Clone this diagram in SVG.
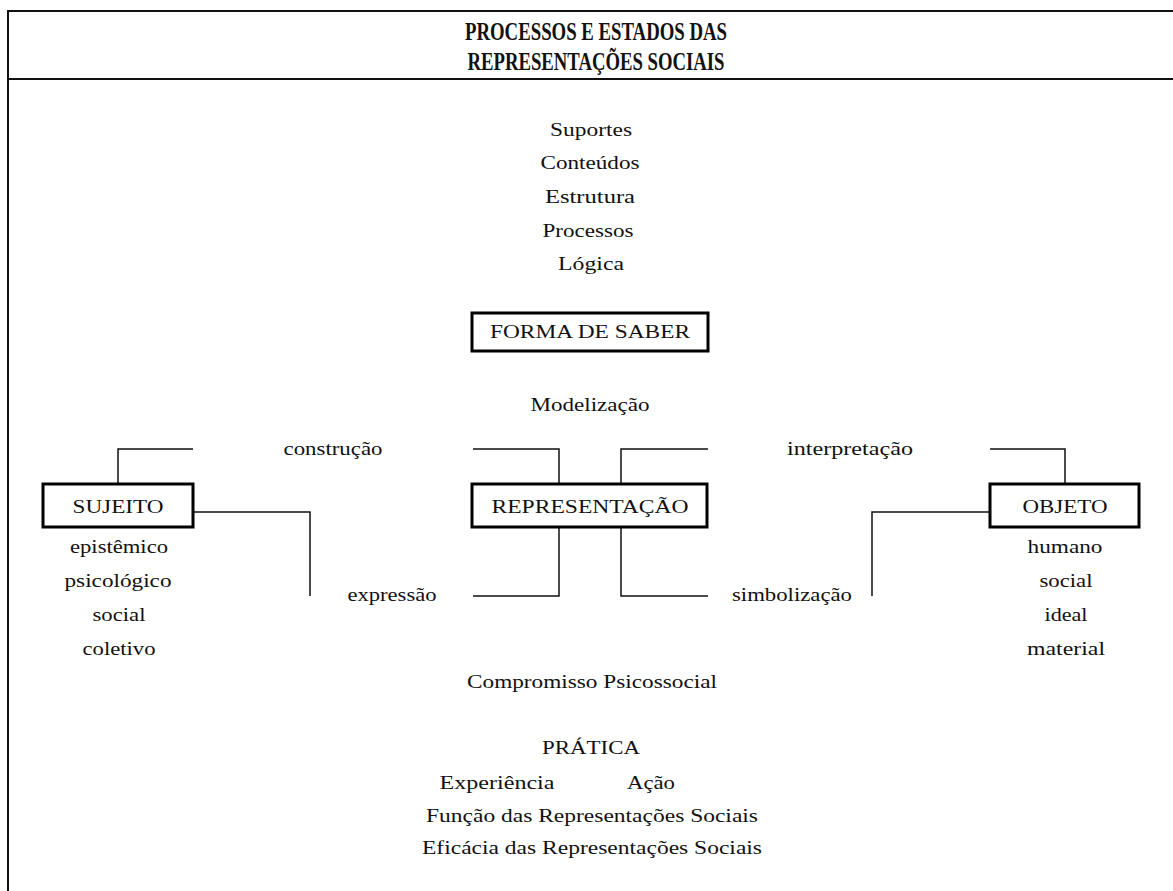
<svg xmlns="http://www.w3.org/2000/svg" width="1173" height="891" viewBox="0 0 1173 891">
<style>
text{font-family:"Liberation Serif","Times New Roman",serif;font-size:18px;fill:#111;text-anchor:middle}
.t{font-weight:bold;font-size:25px}
.box{fill:#fff;stroke:#000;stroke-width:3}
.frame{fill:none;stroke:#111;stroke-width:2}
.c{fill:none;stroke:#111;stroke-width:1.5}
</style>
<rect width="1173" height="891" fill="#fff"/>
<g id="frame">
<path class="frame" d="M8,891 V11 H1173 M8,79 H1173"/>
</g>
<g id="title">
<text class="t" x="596" y="40" textLength="262" lengthAdjust="spacingAndGlyphs">PROCESSOS E ESTADOS DAS</text>
<text class="t" x="596" y="70" textLength="257" lengthAdjust="spacingAndGlyphs">REPRESENTAÇÕES SOCIAIS</text>
</g>
<g id="dimensoes">
<text x="591" y="136" textLength="82" lengthAdjust="spacingAndGlyphs">Suportes</text>
<text x="590" y="169" textLength="99" lengthAdjust="spacingAndGlyphs">Conteúdos</text>
<text x="590" y="203" textLength="90" lengthAdjust="spacingAndGlyphs">Estrutura</text>
<text x="588" y="237" textLength="91" lengthAdjust="spacingAndGlyphs">Processos</text>
<text x="591" y="270" textLength="66" lengthAdjust="spacingAndGlyphs">Lógica</text>
</g>
<g id="forma-de-saber">
<rect class="box" x="472" y="313" width="236" height="38"/>
<text x="590" y="338" textLength="200" lengthAdjust="spacingAndGlyphs">FORMA DE SABER</text>
</g>
<g id="modelizacao">
<text x="590" y="411" textLength="119" lengthAdjust="spacingAndGlyphs">Modelização</text>
</g>
<g id="connectors">
<path class="c" d="M118,483 V449 H193"/>
<path class="c" d="M473,449 H559 V483"/>
<path class="c" d="M621,483 V449 H708"/>
<path class="c" d="M990,449 H1065 V483"/>
<path class="c" d="M193,512 H310 V596"/>
<path class="c" d="M559,528 V596 H473"/>
<path class="c" d="M621,528 V596 H708"/>
<path class="c" d="M989,512 H872 V596"/>
</g>
<g id="labels">
<text x="333" y="455" textLength="99" lengthAdjust="spacingAndGlyphs">construção</text>
<text x="850" y="455" textLength="126" lengthAdjust="spacingAndGlyphs">interpretação</text>
<text x="392" y="601" textLength="89" lengthAdjust="spacingAndGlyphs">expressão</text>
<text x="792" y="601" textLength="120" lengthAdjust="spacingAndGlyphs">simbolização</text>
</g>
<g id="sujeito">
<rect class="box" x="43" y="484" width="150" height="43"/>
<text x="118" y="513" textLength="91" lengthAdjust="spacingAndGlyphs">SUJEITO</text>
<text x="119" y="553" textLength="98" lengthAdjust="spacingAndGlyphs">epistêmico</text>
<text x="118" y="587" textLength="107" lengthAdjust="spacingAndGlyphs">psicológico</text>
<text x="119" y="621" textLength="53" lengthAdjust="spacingAndGlyphs">social</text>
<text x="119" y="655" textLength="73" lengthAdjust="spacingAndGlyphs">coletivo</text>
</g>
<g id="representacao">
<rect class="box" x="472" y="484" width="235" height="43"/>
<text x="590" y="513" textLength="197" lengthAdjust="spacingAndGlyphs">REPRESENTAÇÃO</text>
</g>
<g id="objeto">
<rect class="box" x="990" y="484" width="149" height="43"/>
<text x="1065" y="513" textLength="85" lengthAdjust="spacingAndGlyphs">OBJETO</text>
<text x="1065" y="553" textLength="75" lengthAdjust="spacingAndGlyphs">humano</text>
<text x="1066" y="587" textLength="53" lengthAdjust="spacingAndGlyphs">social</text>
<text x="1066" y="621" textLength="43" lengthAdjust="spacingAndGlyphs">ideal</text>
<text x="1066" y="655" textLength="78" lengthAdjust="spacingAndGlyphs">material</text>
</g>
<g id="compromisso">
<text x="592" y="688" textLength="250" lengthAdjust="spacingAndGlyphs">Compromisso Psicossocial</text>
</g>
<g id="pratica">
<text x="591" y="754" textLength="98" lengthAdjust="spacingAndGlyphs">PRÁTICA</text>
<text x="497" y="789" textLength="115" lengthAdjust="spacingAndGlyphs">Experiência</text>
<text x="651" y="789" textLength="48" lengthAdjust="spacingAndGlyphs">Ação</text>
<text x="592" y="822" textLength="332" lengthAdjust="spacingAndGlyphs">Função das Representações Sociais</text>
<text x="592" y="854" textLength="340" lengthAdjust="spacingAndGlyphs">Eficácia das Representações Sociais</text>
</g>
</svg>
